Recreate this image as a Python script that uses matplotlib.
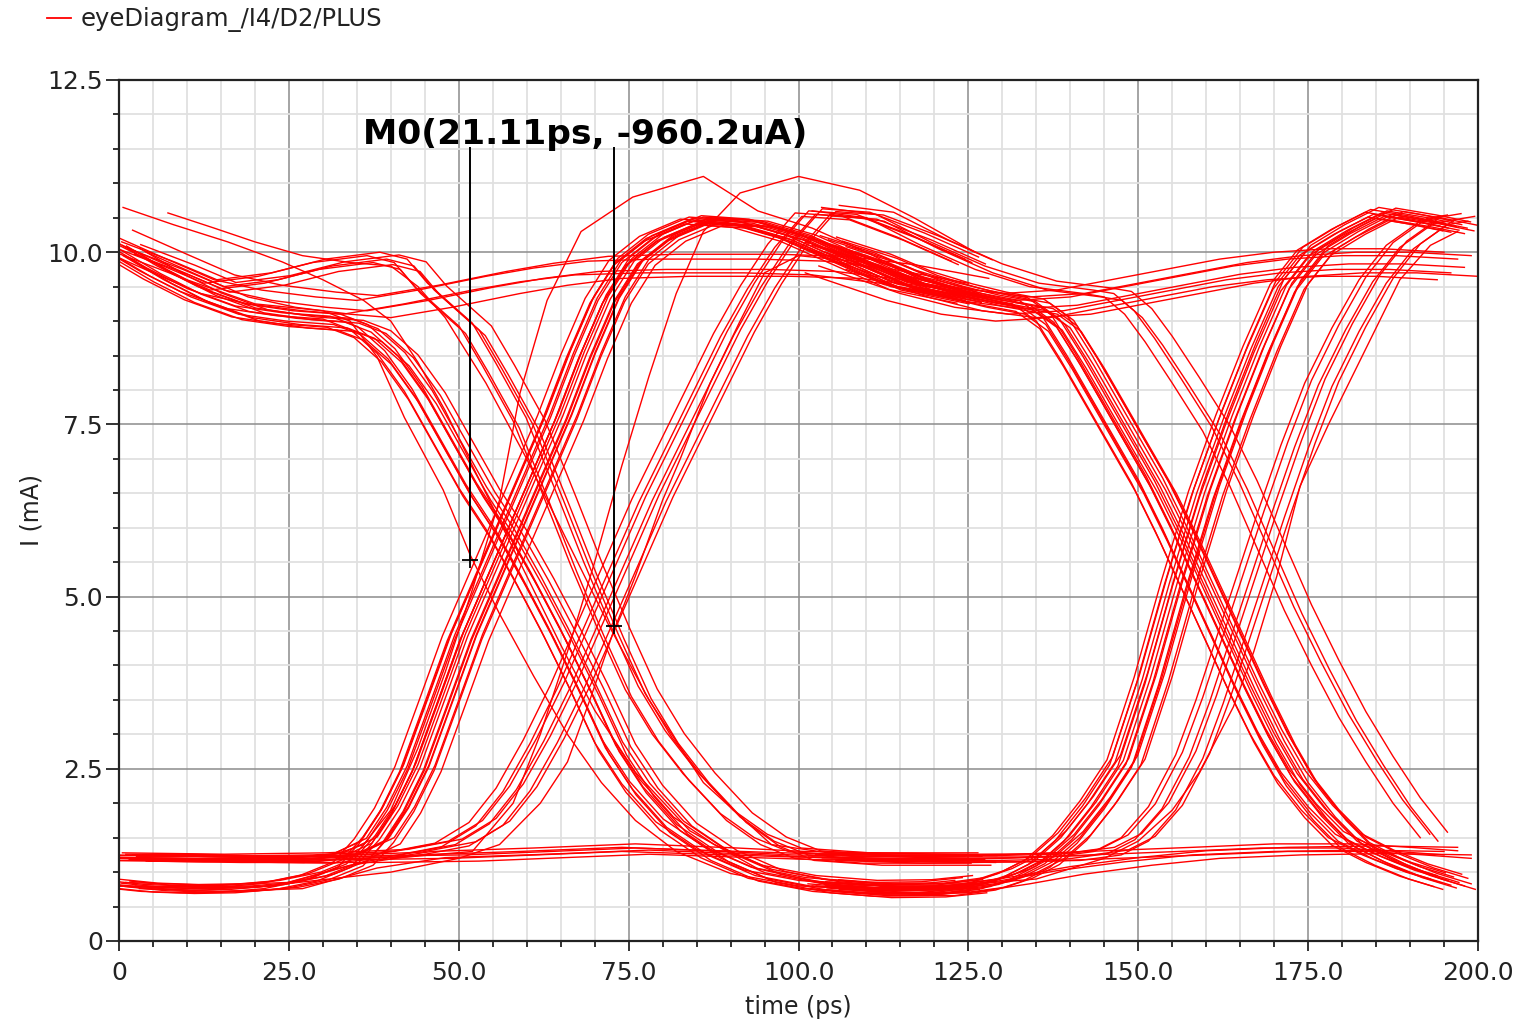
import matplotlib.pyplot as plt
from matplotlib.lines import Line2D
from matplotlib.ticker import MultipleLocator

# ---------------- eye diagram traces (time in ps, current in mA) ----------------

# first bit slot, early falling bundle
FALL_A_T = [0, 6, 12, 19, 26, 33, 37, 41, 45, 49, 53, 57, 61, 65, 69, 73, 77, 82, 88, 95, 103, 112, 120, 126]
FALL_A_I = [10.0, 9.65, 9.35, 9.1, 9.0, 8.95, 8.8, 8.45, 7.9, 7.2, 6.5, 5.9, 5.2, 4.45, 3.65, 2.8, 2.2, 1.65, 1.25, 0.95, 0.8, 0.73, 0.74, 0.8]
FALL_A_DT = [-3.0, -2.4, -1.9, -1.4, -0.9, -0.4, 0.1, 0.6, 1.1, 1.7, 2.3, 3.0]
FALL_A_DI = [0.08, -0.04, 0.12, 0.0, -0.08, 0.15, 0.04, -0.05, 0.09, -0.1, 0.02, 0.06]

# first bit slot, late falling bundle
FALL_B_T = [0, 8, 14, 22, 30, 38, 42, 45, 51.6, 55, 59.5, 64, 68, 72, 76, 80, 84.5, 90, 95, 100, 110, 126]
FALL_B_I = [10.05, 9.75, 9.5, 9.6, 9.8, 9.9, 9.8, 9.45, 8.87, 8.3, 7.5, 6.4, 5.4, 4.47, 3.6, 2.95, 2.38, 1.8, 1.45, 1.25, 1.18, 1.18]
FALL_B_DT = [-1.5, -0.6, 0.4, 1.4, 2.3, 3.2]
FALL_B_DI = [0.05, -0.05, 0.1, 0.0, -0.08, 0.06]

# first bit slot, high level kept
HIGH_A_T = [0, 8, 15, 22, 30, 36, 45, 55, 62, 70, 80, 95, 105, 115, 126]
HIGH_A_I = [10.1, 9.75, 9.45, 9.3, 9.2, 9.15, 9.3, 9.5, 9.62, 9.72, 9.75, 9.75, 9.72, 9.6, 9.4]
HIGH_A_DT = [-3.0, -1.0, 0.5, 2.0, 4.0]
HIGH_A_DI = [-0.05, 0.15, 0.0, 0.22, -0.1]

# first bit slot, main rising bundle (from the lower and the upper low level)
RISE_LOW_T = [0, 6, 12, 18, 24, 30, 35]
RISE_LOW_I = [0.82, 0.76, 0.74, 0.75, 0.8, 0.92, 1.12]
RISE_UP_T = [1, 10, 20, 28, 33]
RISE_UP_I = [1.2, 1.2, 1.18, 1.17, 1.22]
RISE_A_T = [38, 41, 44, 47.7, 51, 54.5, 58, 61.5, 65, 68.5, 72, 75.5, 80, 86, 93, 100, 108, 116, 126]
RISE_A_I = [1.45, 1.9, 2.5, 3.5, 4.4, 5.2, 6.0, 6.8, 7.6, 8.5, 9.3, 9.85, 10.2, 10.45, 10.4, 10.2, 9.85, 9.5, 9.3]
RISE_LOW_DT = [-3.4, -2.7, -2.1, -1.5, -0.9, -0.3, 0.3, 0.9, 1.6, 2.4]
RISE_LOW_DI = [0.03, -0.04, 0.06, 0.0, -0.05, 0.08, 0.02, -0.03, 0.05, -0.02]
RISE_UP_DT = [-2.4, -1.6, -0.8, 0.0, 0.8, 1.6, 2.5, 3.4]
RISE_UP_DI = [0.0, 0.04, -0.03, 0.06, -0.02, 0.03, 0.05, -0.04]

# first bit slot, late rising bundle
RISE_B_T = [0, 15, 30, 42, 50, 55, 59, 63, 67, 71, 75, 79, 83, 87, 91, 95, 99, 103, 110, 118, 126]
RISE_B_I = [1.2, 1.18, 1.2, 1.25, 1.4, 1.7, 2.2, 2.9, 3.7, 4.6, 5.5, 6.4, 7.2, 8.0, 8.8, 9.5, 10.1, 10.55, 10.5, 10.2, 9.85]
RISE_B_DT = [-3.5, -2.5, -1.5, -0.5, 0.5, 1.5, 2.5]
RISE_B_DI = [0.02, -0.03, 0.05, 0.0, 0.08, -0.02, 0.04]

# first bit slot, low level kept
LOW_A_T = [0, 12, 24, 35, 45, 60, 75, 90, 100, 126]
LOW_A_I = [0.8, 0.76, 0.8, 1.1, 1.25, 1.3, 1.36, 1.3, 1.25, 1.2]
LOW_B_T = [1, 15, 35, 50, 75, 100, 126]
LOW_B_I = [1.2, 1.18, 1.18, 1.2, 1.3, 1.22, 1.18]
LOW_DT = [-1.0, 1.0, 3.0]
LOW_DI = [0.0, 0.05, -0.04]

# single traces of the first bit slot
TOP_T = [0.6, 8, 16, 24, 30, 36, 40, 44, 48, 52, 56, 60, 65, 70, 76, 84, 94, 106, 126]
TOP_I = [10.65, 10.4, 10.15, 9.86, 9.6, 9.3, 9.0, 8.4, 7.7, 6.9, 6.1, 5.3, 4.3, 3.35, 2.45, 1.6, 1.05, 0.78, 0.76]
TOP2_T = [7.2, 14, 20, 27, 34, 40, 44, 48, 54, 60, 66, 72, 78, 86, 96, 110, 126]
TOP2_I = [10.57, 10.35, 10.15, 9.95, 9.85, 9.8, 9.5, 9.05, 8.1, 7.0, 5.8, 4.6, 3.5, 2.3, 1.4, 1.2, 1.18]
EARLY_T = [0, 10, 20, 30, 34, 38, 42, 47.7, 51.7, 56, 61, 66, 71, 76, 82, 90, 100, 112, 126]
EARLY_I = [10.1, 9.6, 9.25, 9.15, 9.0, 8.48, 7.6, 6.55, 5.6, 4.75, 3.85, 3.0, 2.3, 1.75, 1.3, 0.98, 0.8, 0.74, 0.78]
PEAK_A_T = [0, 15, 30, 36, 40, 44, 48, 52, 56, 59, 63, 68, 75.6, 86, 94, 102, 110, 118, 126]
PEAK_A_I = [1.2, 1.2, 1.2, 1.4, 1.9, 2.8, 3.9, 5.1, 6.4, 7.95, 9.3, 10.3, 10.8, 11.1, 10.6, 10.35, 10.0, 9.6, 9.4]
PEAK_B_T = [40, 52, 58, 62, 66, 70, 74, 78, 82, 86, 91.4, 100, 109, 117, 126]
PEAK_B_I = [1.2, 1.3, 2.0, 3.0, 4.2, 5.5, 6.9, 8.2, 9.4, 10.3, 10.86, 11.1, 10.9, 10.5, 10.0]
STEEP_A_T = [0, 20, 40, 50, 56, 62, 66, 69.3, 72.8, 76, 80, 82.6, 87, 91.4, 95, 100, 110, 118, 126]
STEEP_A_I = [0.8, 0.78, 1.0, 1.2, 1.4, 2.0, 2.6, 3.5, 4.5, 5.3, 6.4, 7.0, 8.1, 9.0, 9.7, 9.95, 9.85, 9.6, 9.4]

# second bit slot, main falling bundle
FALL_C_T = [104, 112, 118, 124, 129, 134.5, 138, 141.5, 145, 148.5, 152, 155.5, 159, 162.5, 166, 169.5, 173, 177, 181, 186, 191, 196]
FALL_C_I = [10.1, 9.85, 9.6, 9.42, 9.3, 9.2, 8.95, 8.4, 7.8, 7.2, 6.6, 5.9, 5.15, 4.4, 3.65, 2.95, 2.35, 1.85, 1.45, 1.2, 1.0, 0.85]
FALL_C_DT = [-3.0, -2.5, -2.0, -1.6, -1.2, -0.8, -0.4, 0.0, 0.4, 0.8, 1.2, 1.6, 2.0, 2.5, 3.0, 3.6]
FALL_C_DI = [0.05, -0.06, 0.1, 0.0, -0.1, 0.14, 0.03, -0.04, 0.08, -0.08, 0.0, 0.12, -0.05, 0.06, -0.02, -0.1]

# second bit slot, late falling bundle
FALL_D_T = [104, 112, 120, 128, 136, 144, 147, 150, 153, 157, 161.5, 165.5, 169.5, 173.5, 177.5, 181.5, 185.5, 189.5, 193.5]
FALL_D_I = [10.6, 10.5, 10.1, 9.75, 9.5, 9.4, 9.35, 9.1, 8.7, 8.1, 7.4, 6.6, 5.7, 4.8, 4.0, 3.25, 2.6, 2.0, 1.5]
FALL_D_DT = [-2.0, -0.6, 0.6, 2.0]
FALL_D_DI = [0.0, 0.05, -0.05, 0.08]

# second bit slot, main rising bundle
RISE_E_T = [104, 112, 122, 128, 132, 136, 140, 144, 148, 152, 156, 160, 164, 168, 172, 176, 181, 186, 192, 197]
RISE_E_I = [0.8, 0.74, 0.74, 0.82, 0.95, 1.15, 1.5, 2.0, 2.6, 3.8, 5.2, 6.5, 7.6, 8.6, 9.5, 10.0, 10.3, 10.55, 10.45, 10.35]
RISE_E_DT = [-2.6, -2.2, -1.8, -1.4, -1.0, -0.6, -0.2, 0.2, 0.6, 1.0, 1.4, 1.9, 2.4, 3.0]
RISE_E_DI = [0.03, -0.04, 0.07, 0.0, -0.06, 0.1, 0.02, -0.03, 0.05, -0.08, 0.0, 0.09, -0.04, 0.04]

# second bit slot, late rising bundle
RISE_F_T = [104, 116, 130, 140, 146, 150, 154, 158, 161, 164, 167, 170, 173.5, 177, 181, 185, 189, 194, 197]
RISE_F_I = [1.22, 1.2, 1.2, 1.22, 1.3, 1.5, 1.95, 2.7, 3.5, 4.4, 5.3, 6.2, 7.2, 8.1, 8.9, 9.6, 10.1, 10.45, 10.5]
RISE_F_DT = [-2.5, -1.5, -0.5, 0.5, 1.5, 2.5]
RISE_F_DI = [0.0, 0.04, -0.03, 0.06, -0.05, 0.02]
STEEP_B_T = [104, 116, 135, 145, 150, 155, 159, 164, 167, 170.4, 173.8, 178, 183, 188.5, 193, 197]
STEEP_B_I = [0.8, 0.75, 0.9, 1.2, 1.45, 1.9, 2.45, 3.4, 4.2, 5.3, 6.6, 7.5, 8.5, 9.6, 10.1, 10.3]

# second bit slot, levels kept
HIGH_B_T = [104, 110, 116, 124, 132, 140, 148, 156, 164, 172, 180, 188, 197]
HIGH_B_I = [10.0, 9.8, 9.6, 9.4, 9.3, 9.35, 9.5, 9.65, 9.8, 9.9, 9.95, 9.95, 9.9]
HIGH_B_DT = [-3.0, -2.0, -1.0, 0.0, 1.0, 2.0, 3.0]
HIGH_B_DI = [-0.3, 0.1, -0.2, 0.0, -0.12, 0.05, -0.25]
LOW_C_T = [104, 116, 124, 132, 140, 150, 160, 172, 185, 197]
LOW_C_I = [0.8, 0.72, 0.76, 0.88, 1.02, 1.15, 1.25, 1.3, 1.32, 1.3]
LOW_D_T = [104, 116, 132, 145, 158, 170, 182, 190, 197]
LOW_D_I = [1.22, 1.18, 1.2, 1.25, 1.3, 1.35, 1.35, 1.3, 1.25]
LOW_C_DT = [-2.0, 0.0, 2.0]
LOW_C_DI = [0.0, 0.06, -0.05]

# markers
MARK_T = [51.70, 72.81]
MARK_I = [5.530, 4.570]
MARK_LABEL = 'M0(21.11ps, -960.2uA)'

X_TICKS = [0, 25, 50, 75, 100, 125, 150, 175, 200]
X_LABELS = ['0', '25.0', '50.0', '75.0', '100.0', '125.0', '150.0', '175.0', '200.0']
Y_TICKS = [0, 2.5, 5.0, 7.5, 10.0, 12.5]
Y_LABELS = ['0', '2.5', '5.0', '7.5', '10.0', '12.5']

RED = '#ff0000'

bundles = [
    (FALL_A_T, FALL_A_I, FALL_A_DT, FALL_A_DI),
    (FALL_B_T, FALL_B_I, FALL_B_DT, FALL_B_DI),
    (HIGH_A_T, HIGH_A_I, HIGH_A_DT, HIGH_A_DI),
    (RISE_LOW_T + RISE_A_T, RISE_LOW_I + RISE_A_I, RISE_LOW_DT, RISE_LOW_DI),
    (RISE_UP_T + RISE_A_T, RISE_UP_I + RISE_A_I, RISE_UP_DT, RISE_UP_DI),
    (RISE_B_T, RISE_B_I, RISE_B_DT, RISE_B_DI),
    (LOW_A_T, LOW_A_I, LOW_DT, LOW_DI),
    (LOW_B_T, LOW_B_I, LOW_DT, LOW_DI),
    (TOP_T, TOP_I, [0.0], [0.0]),
    (TOP2_T, TOP2_I, [0.0], [0.0]),
    (EARLY_T, EARLY_I, [0.0], [0.0]),
    (PEAK_A_T, PEAK_A_I, [0.0], [0.0]),
    (PEAK_B_T, PEAK_B_I, [0.0], [0.0]),
    (STEEP_A_T, STEEP_A_I, [0.0], [0.0]),
    (FALL_C_T, FALL_C_I, FALL_C_DT, FALL_C_DI),
    (FALL_D_T, FALL_D_I, FALL_D_DT, FALL_D_DI),
    (RISE_E_T, RISE_E_I, RISE_E_DT, RISE_E_DI),
    (RISE_F_T, RISE_F_I, RISE_F_DT, RISE_F_DI),
    (STEEP_B_T, STEEP_B_I, [0.0], [0.0]),
    (HIGH_B_T, HIGH_B_I, HIGH_B_DT, HIGH_B_DI),
    (LOW_C_T, LOW_C_I, LOW_C_DT, LOW_C_DI),
    (LOW_D_T, LOW_D_I, LOW_C_DT, LOW_C_DI),
]

fig = plt.figure(figsize=(15.24, 10.23), dpi=100)
ax = fig.add_axes([119 / 1524, 1 - 941 / 1023, 1359 / 1524, 861 / 1023])

for t, cur, dts, dis in bundles:
    for dt, di in zip(dts, dis):
        ax.plot([x + dt for x in t], [y + di for y in cur], color=RED, lw=1.0)

# marker lines and label
top_i = 11.53
ax.vlines(MARK_T, MARK_I, top_i, color='black', lw=1.4, zorder=5)
ax.plot(MARK_T, MARK_I, linestyle='none', marker='+', color='black', ms=12, mew=1.3, zorder=6)
ax.text(35.9, 11.71, MARK_LABEL, fontsize=24.8, fontweight='bold', va='center', ha='left',
        color='black', zorder=7)

ax.set_xlim(0, 200)
ax.set_ylim(0, 12.5)
ax.set_xticks(X_TICKS, X_LABELS)
ax.set_yticks(Y_TICKS, Y_LABELS)
ax.xaxis.set_minor_locator(MultipleLocator(5))
ax.yaxis.set_minor_locator(MultipleLocator(0.5))
ax.set_axisbelow(True)
ax.grid(which='minor', color='#e0e0e0', lw=1.3)
ax.grid(which='major', color='#8c8c8c', lw=1.1)

ax.tick_params(axis='both', which='both', direction='out', colors='#222222', labelsize=18)
ax.tick_params(axis='x', which='major', length=7.5, width=1.3, pad=7)
ax.tick_params(axis='x', which='minor', length=4, width=1.3)
ax.tick_params(axis='y', which='major', length=9.5, width=1.3, pad=2)
ax.tick_params(axis='y', which='minor', length=4, width=1.3)
for side in ax.spines.values():
    side.set_linewidth(1.6)
    side.set_color('#222222')

ax.set_xlabel('time (ps)', fontsize=17, color='#222222', labelpad=7)
ax.set_ylabel('I (mA)', fontsize=17, color='#222222', labelpad=3)

handle = Line2D([], [], color=RED, lw=1.3)
fig.legend([handle], ['eyeDiagram_/I4/D2/PLUS'], loc='center left',
           bbox_to_anchor=(47 / 1524, 1 - 20 / 1023), frameon=False, fontsize=17.5,
           handlelength=1.0, handletextpad=0.4, borderpad=0, borderaxespad=0,
           labelcolor='#222222')

fig.savefig('out.png', dpi=100)
